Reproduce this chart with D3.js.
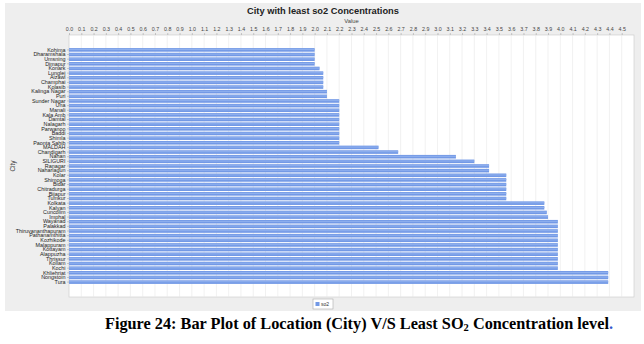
<!DOCTYPE html>
<html><head><meta charset="utf-8">
<script src="https://cdn.jsdelivr.net/npm/d3@7/dist/d3.min.js"></script>
<style>body{margin:0;background:#fff}svg{display:block}</style>
</head><body><svg id="c" width="644" height="344"></svg>
<script>
const cities = ["Kohima","Dharamshala","Umsning","Dimapur","Konark","Lunglei","Aizawl","Champhai","Kolasib","Kalinga Nagar","Puri","Sunder Nagar","Una","Manali","Kala Amb","Damtal","Nalagarh","Parwanoo","Baddi","Shimla","Paonta Sahib","MALDAH","Chandigarh","Nahan","SILIGURI","Ranagar","Naharlagun","Kolar","Shimoga","Bidar","Chitradurga","Bijapur","Tumkur","Kolkata","Kalyan","Cuncolim","Imphal","Wayanad","Palakkad","Thiruvananthapuram","Pathanamthitta","Kozhikode","Malappuram","Kottayam","Alappuzha","Thrissur","Kollam","Kochi","Khliehriat","Nongstoin","Tura"];
const so2 = [2.0,2.0,2.0,2.0,2.04,2.07,2.07,2.07,2.07,2.1,2.1,2.2,2.2,2.2,2.2,2.2,2.2,2.2,2.2,2.2,2.2,2.52,2.68,3.15,3.3,3.42,3.42,3.56,3.56,3.56,3.56,3.56,3.56,3.87,3.87,3.89,3.9,3.98,3.98,3.98,3.98,3.98,3.98,3.98,3.98,3.98,3.98,3.98,4.39,4.39,4.39];
const tickValues = d3.range(0,46).map(i=>i/10);
const seriesName = "so2";
const chartTitle = "City with least so2 Concentrations";
const valueLabel = "Value";
const cityLabel = "City";

const svg = d3.select("#c");
const panel = {x:5,y:3,w:636,h:308};
const plot = {l:69,r:634,t:35,b:297};

svg.append("rect").attr("x",panel.x).attr("y",panel.y).attr("width",panel.w).attr("height",panel.h).attr("fill","#eeeeee");

svg.append("text").attr("x",panel.x+panel.w/2).attr("y",14).attr("text-anchor","middle")
  .attr("font-family","Liberation Sans, Arial, sans-serif").attr("font-weight","bold").attr("font-size","9.3px").attr("fill","#222").text(chartTitle);

const x = d3.scaleLinear().domain([0,4.6]).range([plot.l,plot.r]);
const H = plot.b-plot.t;
const y = d3.scaleBand().domain(cities).range([plot.t+0.05*H, plot.b-0.05*H]).paddingInner(0.226).paddingOuter(0);

svg.append("rect").attr("x",plot.l).attr("y",plot.t).attr("width",plot.r-plot.l).attr("height",H).attr("fill","#fff").attr("stroke","#c8c8c8").attr("stroke-width",0.6);

// gridlines
svg.append("g").selectAll("line").data(tickValues).join("line")
  .attr("x1",d=>x(d)).attr("x2",d=>x(d)).attr("y1",plot.t).attr("y2",plot.b)
  .attr("stroke","#e8e8e8").attr("stroke-width",0.6);

// top axis
const ax = svg.append("g").attr("transform",`translate(0,${plot.t})`)
  .call(d3.axisTop(x).tickValues(tickValues).tickFormat(d3.format(".1f")).tickSize(2).tickPadding(2));
ax.select(".domain").remove();
ax.selectAll("line").attr("stroke","#999").attr("stroke-width",0.5);
ax.selectAll("text").attr("font-family","Liberation Sans, Arial, sans-serif").attr("font-size","5.3px").attr("fill","#444");

svg.append("text").attr("x",(plot.l+plot.r)/2).attr("y",22.5).attr("text-anchor","middle")
  .attr("font-family","Liberation Sans, Arial, sans-serif").attr("font-size","5.8px").attr("fill","#444").text(valueLabel);

// left axis
const ay = svg.append("g").attr("transform",`translate(${plot.l},0)`)
  .call(d3.axisLeft(y).tickSize(2).tickPadding(1.5));
ay.select(".domain").remove();
ay.selectAll("line").attr("stroke","#999").attr("stroke-width",0.5);
ay.selectAll("text").attr("font-family","Liberation Sans, Arial, sans-serif").attr("font-size","5.4px").attr("fill","#222");

svg.append("text").attr("transform",`translate(15,${(plot.t+plot.b)/2}) rotate(-90)`).attr("text-anchor","middle")
  .attr("font-family","Liberation Sans, Arial, sans-serif").attr("font-size","6.5px").attr("fill","#444").text(cityLabel);

// bars
svg.append("g").selectAll("rect").data(cities).join("rect")
  .attr("x",x(0)).attr("y",d=>y(d)).attr("height",y.bandwidth())
  .attr("width",(d,i)=>x(so2[i])-x(0)).attr("fill","#7399e6");
svg.append("g").selectAll("rect").data(cities).join("rect")
  .attr("x",x(0)).attr("y",d=>y(d)+y.bandwidth()*0.25).attr("height",y.bandwidth()*0.3)
  .attr("width",(d,i)=>x(so2[i])-x(0)).attr("fill","#8fb0ee");

// legend
const lg = svg.append("g");
lg.append("rect").attr("x",313).attr("y",299).attr("width",20).attr("height",10).attr("fill","#fff").attr("stroke","#aaa").attr("stroke-width",0.6);
lg.append("rect").attr("x",315.5).attr("y",302).attr("width",4).attr("height",4).attr("fill","#7399e6");
lg.append("text").attr("x",321).attr("y",306).attr("font-family","Liberation Sans, Arial, sans-serif").attr("font-size","5px").attr("fill","#333").text(seriesName);

// caption
const cap = svg.append("text").attr("x",359).attr("y",329).attr("text-anchor","middle")
  .attr("font-family","Liberation Serif, Times New Roman, serif").attr("font-weight","bold").attr("font-size","16.3px").attr("fill","#000");
cap.append("tspan").text("Figure 24: Bar Plot of Location (City) V/S Least SO");
cap.append("tspan").attr("font-size","10.5px").attr("dy","2").text("2");
cap.append("tspan").attr("dy","-2").text(" Concentration level");
cap.append("tspan").attr("fill","#3355cc").text(".");
</script>
</body></html>
